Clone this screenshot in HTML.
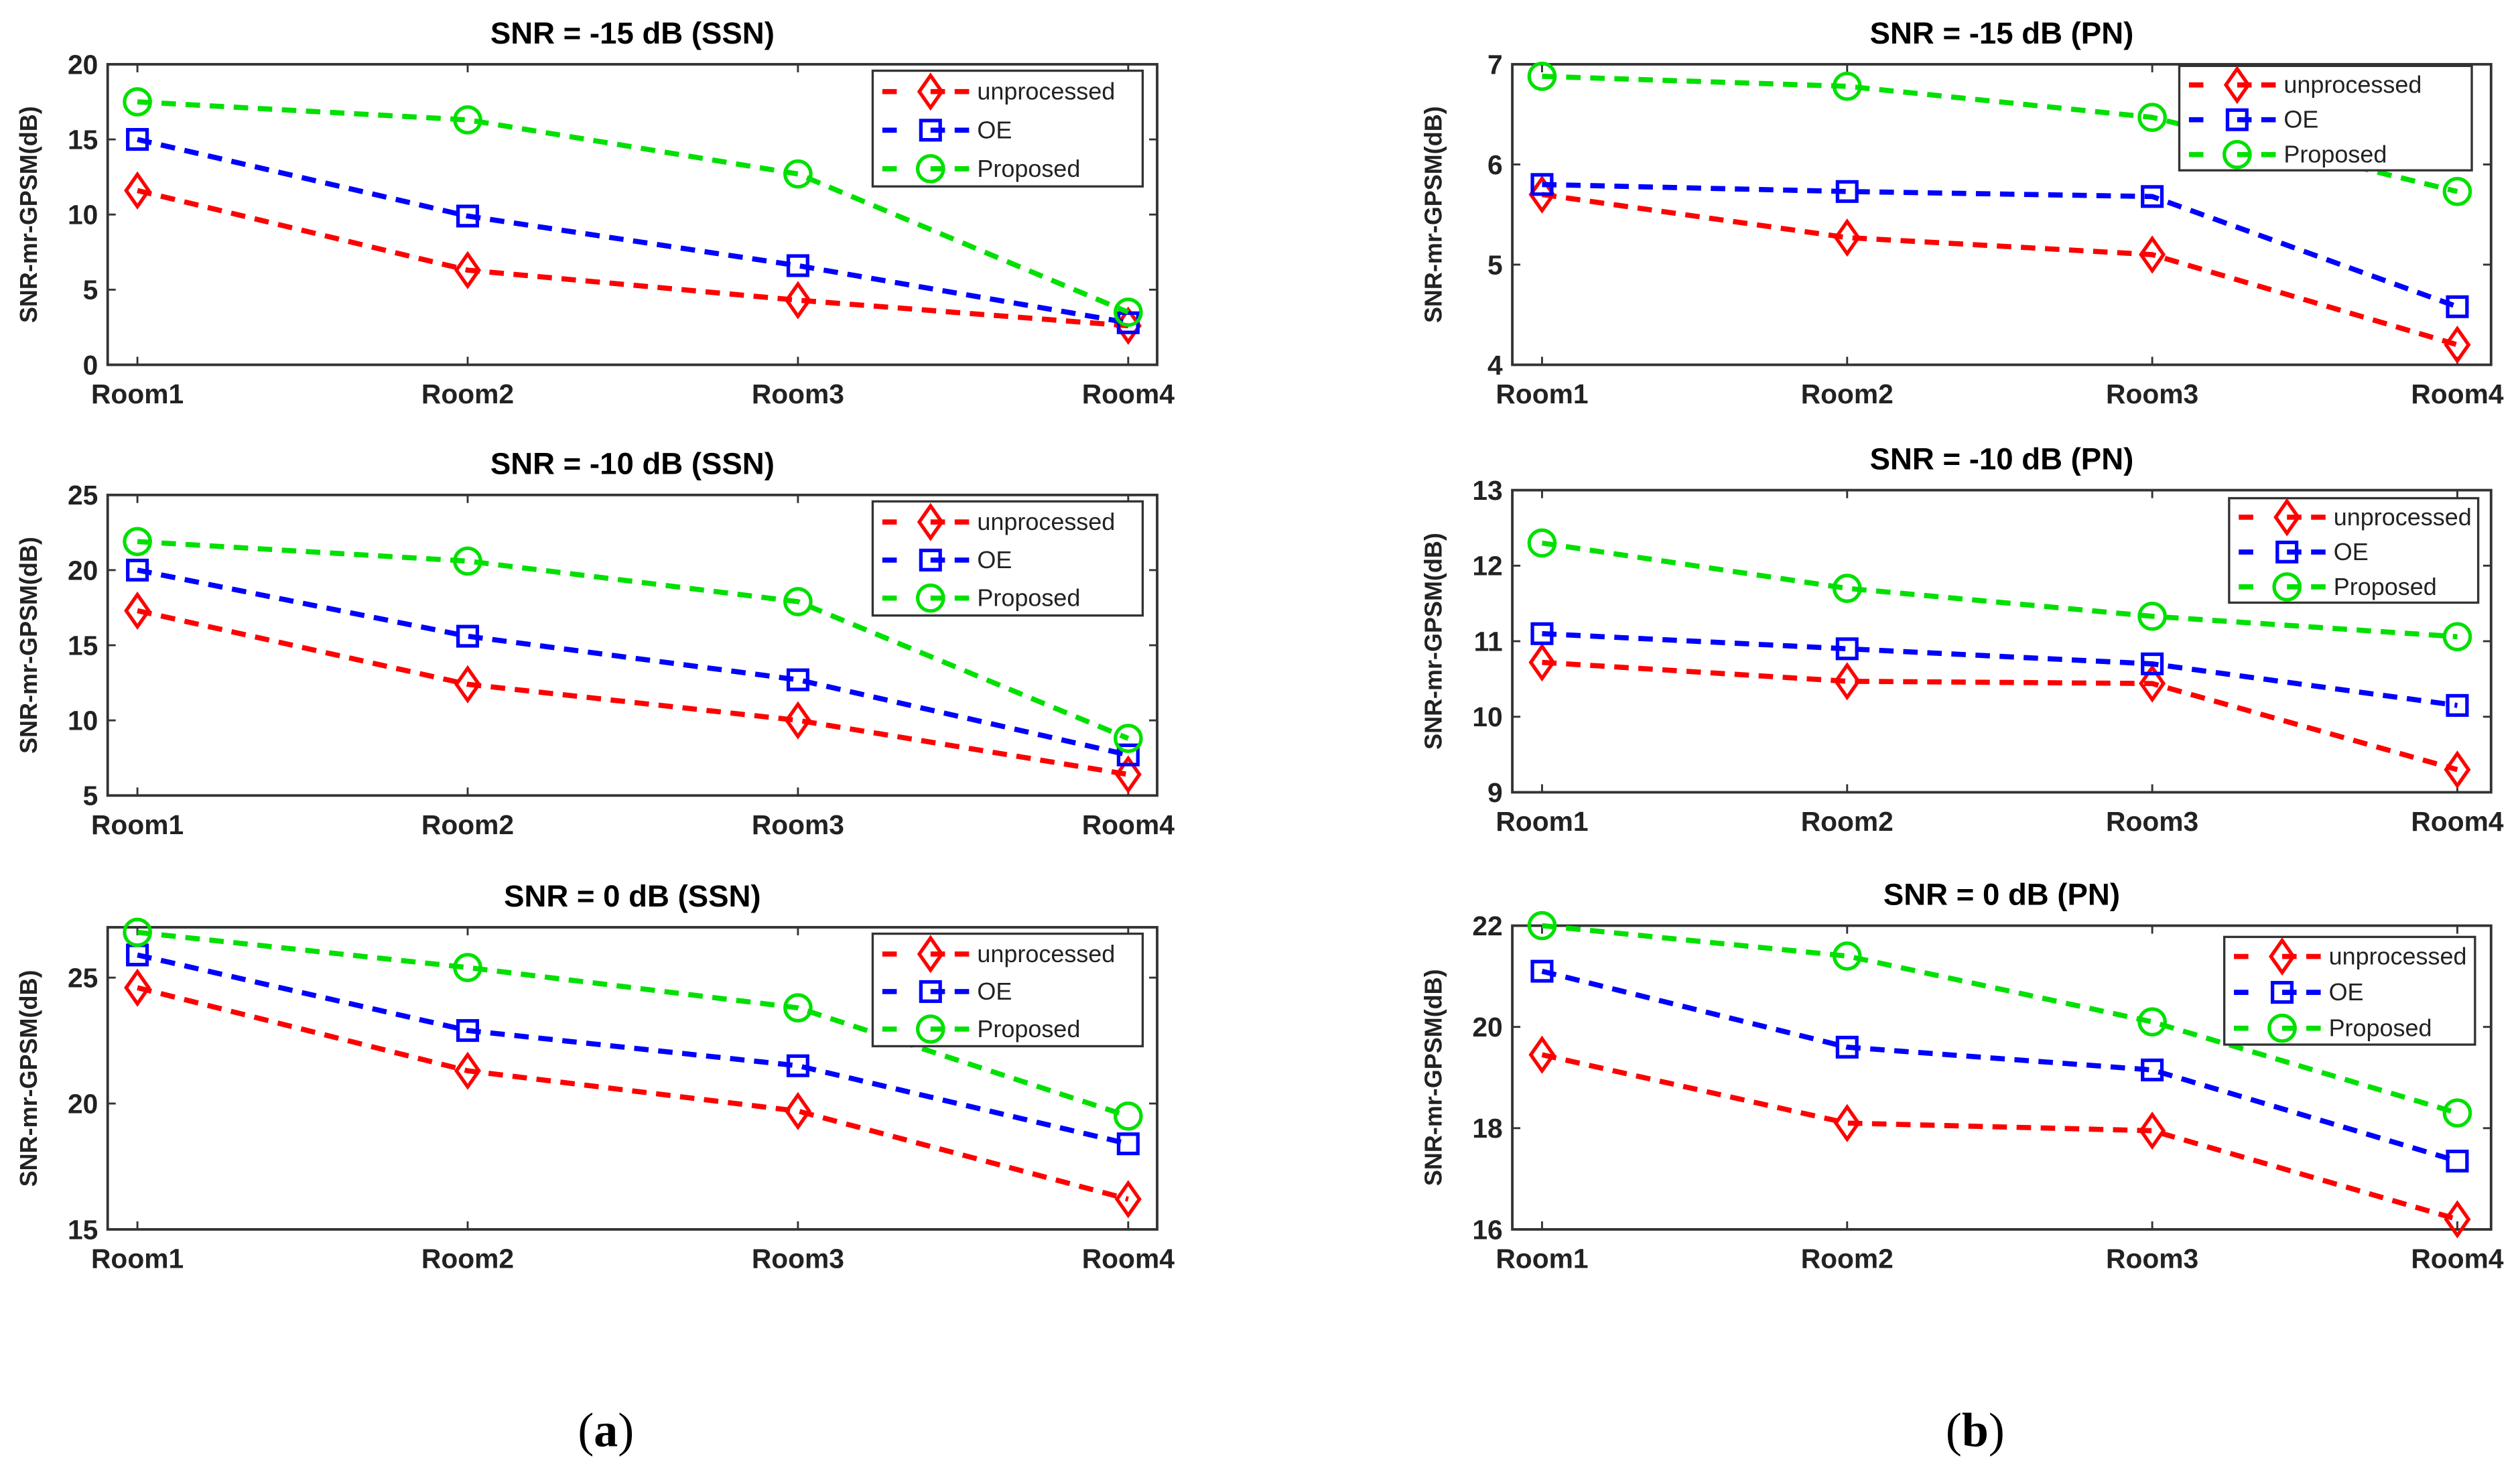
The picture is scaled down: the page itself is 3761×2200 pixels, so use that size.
<!DOCTYPE html>
<html><head><meta charset="utf-8"><style>
html,body{margin:0;padding:0;background:#fff;}
svg{display:block;}
</style></head><body>
<svg id="fig" width="3761" height="2200" viewBox="0 0 1568 917.2" xmlns="http://www.w3.org/2000/svg" font-family="'Liberation Sans', Arial, sans-serif">
<rect width="1568" height="917.2" fill="#fff"/>
<text x="377" y="900" font-family="'Liberation Serif', serif" font-size="30" text-anchor="middle">(<tspan font-weight="bold">a</tspan>)</text>
<text x="1229" y="900" font-family="'Liberation Serif', serif" font-size="30" text-anchor="middle">(<tspan font-weight="bold">b</tspan>)</text>
</svg>
<script>
const categories = ["Room1","Room2","Room3","Room4"];
const seriesNames = ["unprocessed","OE","Proposed"];
const titles = ["SNR = -15 dB (SSN)","SNR = -10 dB (SSN)","SNR = 0 dB (SSN)","SNR = -15 dB (PN)","SNR = -10 dB (PN)","SNR = 0 dB (PN)"];
const yMins = [0,5,15,4,9,16];
const yMaxs = [20,25,27,7,13,22];
const yTicks = [[0,5,10,15,20],[5,10,15,20,25],[15,20,25],[4,5,6,7],[9,10,11,12,13],[16,18,20,22]];
const unprocessed = [[11.6,6.3,4.3,2.6],[17.3,12.4,10.0,6.4],[24.6,21.3,19.7,16.2],[5.70,5.27,5.10,4.20],[10.72,10.47,10.44,9.30],[19.45,18.10,17.95,16.20]];
const oe = [[15.0,9.9,6.6,2.8],[20.0,15.6,12.7,7.7],[25.9,22.9,21.5,18.4],[5.80,5.73,5.68,4.58],[11.10,10.90,10.70,10.15],[21.10,19.60,19.15,17.35]];
const proposed = [[17.5,16.3,12.7,3.5],[21.9,20.6,17.9,8.8],[26.8,25.4,23.8,19.5],[6.88,6.78,6.47,5.73],[12.30,11.70,11.33,11.06],[22.00,21.40,20.10,18.30]];

const NS="http://www.w3.org/2000/svg";
const svg=document.getElementById('fig');
const layouts=[
 {l:67,r:720,t:40,b:227,lx:543,ly:44,lw:168,lh:72,pr:18},
 {l:67,r:720,t:308,b:495,lx:543,ly:312,lw:168,lh:71,pr:18},
 {l:67,r:720,t:577,b:765,lx:543,ly:581,lw:168,lh:70,pr:18},
 {l:941,r:1550,t:40,b:227,lx:1356,ly:41,lw:182,lh:65,pr:21},
 {l:941,r:1550,t:305,b:493,lx:1387,ly:310,lw:155,lh:65,pr:21},
 {l:941,r:1550,t:576,b:765,lx:1384,ly:583,lw:156,lh:67,pr:21}
];
const colors=["#ff0000","#0000ff","#00e000"];
function mk(tag,attrs,parent){const e=document.createElementNS(NS,tag);for(const k in attrs)e.setAttribute(k,attrs[k]);(parent||svg).appendChild(e);return e;}
function marker(g,type,x,y,c){
  if(type===0){const m=mk('path',{d:`M${x} ${y-10}L${x+7} ${y}L${x} ${y+10}L${x-7} ${y}Z`,fill:'none',stroke:c,'stroke-width':2.2},g);}
  else if(type===1){const m=mk('rect',{x:x-6,y:y-6,width:12,height:12,fill:'none',stroke:c,'stroke-width':2.2},g);}
  else {const m=mk('circle',{cx:x,cy:y,r:8,fill:'none',stroke:c,'stroke-width':2.2},g);}
}
for(let p=0;p<6;p++){
  const L=layouts[p];
  const g=mk('g',{});
  
  
  const x0=L.l+18.5, x1=L.r-L.pr;
  const xs=i=>x0+(x1-x0)*i/(categories.length-1);
  const ys=v=>L.b-(v-yMins[p])/(yMaxs[p]-yMins[p])*(L.b-L.t);
  const box=mk('rect',{x:L.l,y:L.t,width:L.r-L.l,height:L.b-L.t,fill:'#fff',stroke:'#333','stroke-width':1.6},g);
  
  
  const ttl=mk('text',{x:(L.l+L.r)/2,y:L.t-13,'font-size':19,'font-weight':'bold','text-anchor':'middle'},g);
  ttl.textContent=titles[p];
  
  
  const yl=mk('text',{transform:`translate(${L.l-44},${(L.t+L.b)/2}) rotate(-90)`,'font-size':15,'font-weight':'bold','text-anchor':'middle',fill:'#222'},g);
  yl.textContent='SNR-mr-GPSM(dB)';
  
  
  yTicks[p].forEach(v=>{
    const y=ys(v);
    mk('line',{x1:L.l,x2:L.l+5,y1:y,y2:y,stroke:'#333','stroke-width':1.2},g);
    mk('line',{x1:L.r,x2:L.r-5,y1:y,y2:y,stroke:'#333','stroke-width':1.2},g);
    const t=mk('text',{x:L.l-6,y:y+6,'font-size':17,'font-weight':'bold','text-anchor':'end',fill:'#222'},g);
    t.textContent=v;
    
    
  });
  categories.forEach((c,i)=>{
    const x=xs(i);
    mk('line',{x1:x,x2:x,y1:L.b,y2:L.b-5,stroke:'#333','stroke-width':1.2},g);
    mk('line',{x1:x,x2:x,y1:L.t,y2:L.t+5,stroke:'#333','stroke-width':1.2},g);
    const t=mk('text',{x:x,y:L.b+24,'font-size':17,'font-weight':'bold','text-anchor':'middle',fill:'#222'},g);
    t.textContent=c;
    
    
  });
  [unprocessed[p],oe[p],proposed[p]].forEach((arr,s)=>{
    const pts=arr.map((v,i)=>xs(i)+','+ys(v)).join(' ');
    const ln=mk('polyline',{points:pts,fill:'none',stroke:colors[s],'stroke-width':3.2,'stroke-dasharray':'9 6'},g);
    
    
    arr.forEach((v,i)=>marker(g,s,xs(i),ys(v),colors[s]));
  });
  const lg=mk('g',{},g);
  
  
  mk('rect',{x:L.lx,y:L.ly,width:L.lw,height:L.lh,fill:'#fff',stroke:'#333','stroke-width':1.4},lg);
  seriesNames.forEach((n,s)=>{
    const y=L.ly+L.lh*(s+0.5)/3+1;
    const x=L.lx+6;
    mk('line',{x1:x,x2:x+54,y1:y,y2:y,stroke:colors[s],'stroke-width':3.2,'stroke-dasharray':'9 21'},lg);
    mk('line',{x1:x+45,x2:x+54,y1:y,y2:y,stroke:colors[s],'stroke-width':3.2},lg);
    marker(lg,s,x+30,y,colors[s]);
    const t=mk('text',{x:x+59,y:y+5,'font-size':15,fill:'#222'},lg);
    t.textContent=n;
    
    
  });
}
</script>
</body></html>
